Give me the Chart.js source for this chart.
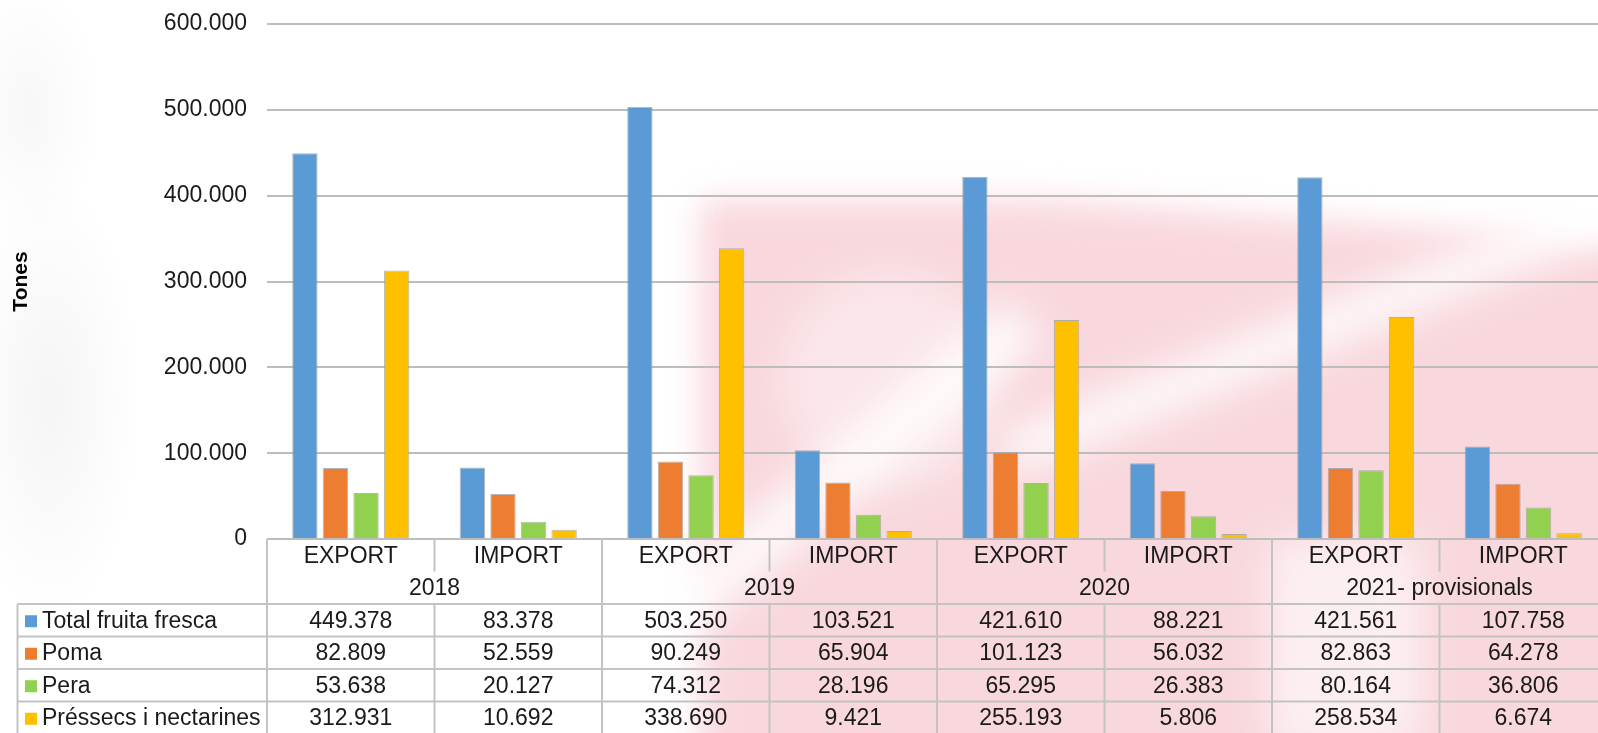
<!DOCTYPE html>
<html>
<head>
<meta charset="utf-8">
<script src="https://cdn.jsdelivr.net/npm/chart.js@4.4.0/dist/chart.umd.min.js"></script>
<style>
  html, body { margin: 0; padding: 0; overflow: hidden; background: #fff; }
  #wrap { position: relative; width: 1598px; height: 733px; overflow: hidden; }
  #bg {
    position: absolute; left: 0; top: 0; width: 1598px; height: 733px;
    background:
      radial-gradient(ellipse 90px 220px at 50px 400px, rgba(232,232,232,0.45), rgba(255,255,255,0) 100%),
      radial-gradient(ellipse 70px 130px at 30px 110px, rgba(236,236,236,0.4), rgba(255,255,255,0) 100%);
  }
  #pink { position: absolute; left: 0; top: 0; width: 1700px; height: 800px; filter: blur(16px); opacity: 0.9; }
  #pink div { position: absolute; background: rgb(248, 212, 218); }
  .band { position: absolute; background: rgba(255,255,255,0.8); filter: blur(18px); }
  canvas { position: absolute; left: 0; top: 0; }
</style>
</head>
<body>
<div id="wrap">
  <div id="bg"></div>
  <div id="pink">
    <div style="left:700px; top:200px; width:1000px; height:600px; clip-path: polygon(0 0, 35% 0, 100% 8%, 100% 100%, 0 100%);"></div>
  </div>
  <div class="band" style="left:620px; top:440px; width:460px; height:55px; transform: rotate(-40deg);"></div>
  <div class="band" style="left:980px; top:290px; width:760px; height:45px; transform: rotate(-22deg);"></div>
  <div class="band" style="left:1270px; top:540px; width:150px; height:210px; opacity:0.75"></div>
  <div class="band" style="left:780px; top:270px; width:220px; height:220px; opacity:0.45; border-radius:50%;"></div>
  <canvas id="chart" width="1612" height="733"></canvas>
</div>
<script>
// categories and values
const categories = ['EXPORT', 'IMPORT', 'EXPORT', 'IMPORT', 'EXPORT', 'IMPORT', 'EXPORT', 'IMPORT'];
const years = ['2018', '2019', '2020', '2021- provisionals'];
const seriesNames = ['Total fruita fresca', 'Poma', 'Pera', 'Préssecs i nectarines'];
const totalFruita = [449378, 83378, 503250, 103521, 421610, 88221, 421561, 107758];
const poma = [82809, 52559, 90249, 65904, 101123, 56032, 82863, 64278];
const pera = [53638, 20127, 74312, 28196, 65295, 26383, 80164, 36806];
const pressecs = [312931, 10692, 338690, 9421, 255193, 5806, 258534, 6674];
const colors = ['#5B9BD5', '#ED7D31', '#92D050', '#FFC000'];

const FONT = "'Liberation Sans', Arial, sans-serif";

function fmt(v) {
    // thousands separated with dots
    return String(v).replace(/\B(?=(\d{3})+(?!\d))/g, '.');
}

const allSeries = [totalFruita, poma, pera, pressecs];

// draws the data table under the plot, aligned on the x scale
const dataTable = {
    id: 'dataTable',
    afterDraw(chart) {
        const ctx = chart.ctx;
        const xs = chart.scales.x;
        const area = chart.chartArea;
        const step = xs.getPixelForValue(1) - xs.getPixelForValue(0);
        const colLeft = i => xs.getPixelForValue(i) - step / 2;
        const rowH = 32.5;
        const top = area.bottom;
        const legendLeft = 17.5;
        const right = colLeft(categories.length);

        ctx.save();
        ctx.strokeStyle = '#c3c3c3';
        ctx.lineWidth = 2;

        function line(x1, y1, x2, y2) {
            ctx.beginPath();
            ctx.moveTo(x1, y1);
            ctx.lineTo(x2, y2);
            ctx.stroke();
        }

        // header verticals
        for (let i = 0; i <= categories.length; i++) {
            const x = colLeft(i);
            if (i % 2 === 0) line(x, top, x, top + rowH * 2);
            else line(x, top, x, top + rowH);
        }
        // data rows
        const dataTop = top + rowH * 2;
        for (let r = 0; r <= seriesNames.length; r++) {
            line(legendLeft, dataTop + r * rowH, right, dataTop + r * rowH);
        }
        line(legendLeft, dataTop, legendLeft, dataTop + rowH * 4);
        for (let i = 0; i <= categories.length; i++) {
            line(colLeft(i), dataTop, colLeft(i), dataTop + rowH * 4);
        }

        ctx.fillStyle = '#1a1a1a';
        ctx.font = '23px ' + FONT;
        ctx.textAlign = 'center';
        ctx.textBaseline = 'middle';
        categories.forEach((c, i) => {
            ctx.fillText(c, xs.getPixelForValue(i), top + rowH / 2 + 1);
        });
        years.forEach((y, k) => {
            const cx = (colLeft(k * 2) + colLeft(k * 2 + 2)) / 2;
            ctx.fillText(y, cx, top + rowH * 1.5 + 1);
        });
        allSeries.forEach((vals, r) => {
            const cy = dataTop + r * rowH + rowH / 2 + 1;
            vals.forEach((v, i) => {
                ctx.fillText(fmt(v), xs.getPixelForValue(i), cy);
            });
        });

        // legend keys
        ctx.textAlign = 'left';
        seriesNames.forEach((name, r) => {
            const cy = dataTop + r * rowH + rowH / 2;
            ctx.fillStyle = colors[r];
            ctx.fillRect(25, cy - 5, 12, 12);
            ctx.fillStyle = '#1a1a1a';
            ctx.fillText(name, 42, cy + 1);
        });
        ctx.restore();
    }
};

const ctx = document.getElementById('chart').getContext('2d');
const chart = new Chart(ctx, {
    type: 'bar',
    data: {
        labels: categories,
        datasets: seriesNames.map((name, k) => ({
            label: name,
            data: allSeries[k],
            backgroundColor: colors[k],
            borderColor: 'rgba(150,150,150,0.7)',
            borderWidth: 1,
            categoryPercentage: 0.73,
            barPercentage: 0.83
        }))
    },
    options: {
        responsive: false,
        animation: false,
        layout: {
            padding: { top: 24, right: 5, bottom: 194, left: 0 }
        },
        plugins: {
            legend: { display: false },
            tooltip: { enabled: false }
        },
        scales: {
            x: {
                display: false
            },
            y: {
                min: 0,
                max: 600000,
                afterFit(scale) {
                    scale.width = 267;
                    scale.paddingTop = 0;
                    scale.paddingBottom = 0;
                },
                border: { display: false },
                grid: { color: '#bdbdbd', lineWidth: 2, drawTicks: false },
                ticks: {
                    stepSize: 100000,
                    padding: 20,
                    color: '#1a1a1a',
                    font: { family: FONT, size: 23 },
                    callback: v => fmt(v)
                },
                title: {
                    display: true,
                    text: 'Tones',
                    color: '#000',
                    padding: { top: 9 },
                    font: { family: FONT, size: 21, weight: 'bold', lineHeight: 1.2 }
                }
            }
        }
    },
    plugins: [dataTable]
});
</script>
</body>
</html>
